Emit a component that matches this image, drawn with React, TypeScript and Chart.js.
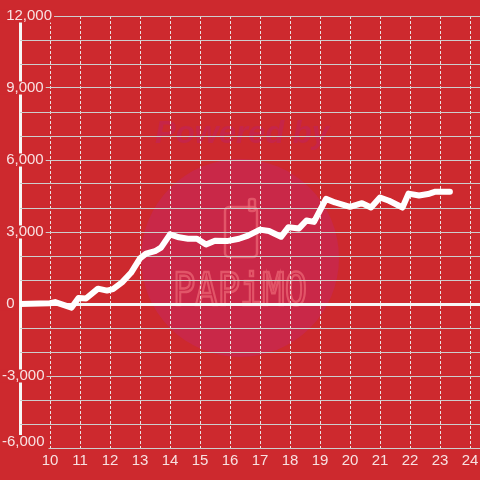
import React, { useEffect, useRef } from 'react';
import { Chart, registerables } from 'chart.js';

Chart.register(...registerables);

// hour of day (x) and running balance (y)
const hours = [9, 10, 10.17, 10.72, 10.95, 11.2, 11.6, 11.9, 12.1, 12.4, 12.7, 13.0, 13.2, 13.5, 13.7, 14.0, 14.3, 14.6, 14.9, 15.2, 15.5, 15.9, 16.3, 16.6, 17.0, 17.3, 17.7, 17.95, 18.3, 18.55, 18.8, 19.2, 19.5, 20.0, 20.4, 20.7, 21.0, 21.3, 21.75, 21.95, 22.3, 22.6, 22.85, 23.33];
const balance = [0, 30, 80, -150, 250, 230, 640, 560, 620, 900, 1300, 1900, 2100, 2200, 2350, 2900, 2780, 2720, 2720, 2480, 2640, 2620, 2720, 2850, 3100, 3040, 2800, 3200, 3150, 3480, 3420, 4380, 4230, 4050, 4200, 4020, 4440, 4300, 4020, 4600, 4520, 4580, 4680, 4680];

// y tick labels (every 3,000); the lowest one is drawn by a second axis
const yLabelValues = [12000, 9000, 6000, 3000, 0, -3000];
const yLabelTexts = ['\u00a012,000', '\u00a09,000', '\u00a06,000', '\u00a03,000', '\u00a00', '-3,000'];
const yBottomValue = -6000;
const yBottomText = '-6,000';
const xMin = 9;
const xMax = 24.3333;
const yMin = -6000;
const yMax = 12000;

const BG = 'rgb(205, 41, 46)';
const TEXT = 'rgba(255, 255, 255, 0.86)';
const FONT = '"Liberation Sans", Arial, sans-serif';

const backgroundPlugin = {
  id: 'papimoBackground',
  beforeDraw(chart: any) {
    const { ctx, width, height } = chart;
    ctx.save();
    ctx.fillStyle = BG;
    ctx.fillRect(0, 0, width, height);
    // watermark circle
    ctx.fillStyle = 'rgb(201, 40, 72)';
    ctx.beginPath();
    ctx.arc(240, 258, 99, 0, Math.PI * 2);
    ctx.fill();
    // "Powered by"
    ctx.fillStyle = 'rgb(198, 37, 72)';
    ctx.font = 'italic bold 31px ' + FONT;
    ctx.textAlign = 'center';
    ctx.textBaseline = 'alphabetic';
    ctx.fillText('Powered by', 242, 143);
    // phone outline
    ctx.strokeStyle = 'rgba(236, 104, 118, 0.7)';
    ctx.lineWidth = 2.5;
    ctx.beginPath();
    ctx.roundRect(225, 207, 32, 50, 4);
    ctx.stroke();
    ctx.beginPath();
    ctx.roundRect(249, 199, 6, 12, 2);
    ctx.stroke();
    // PAPiMO
    ctx.save();
    ctx.font = '44px "DejaVu Sans Mono", monospace';
    const w = ctx.measureText('PAPiMO').width;
    ctx.translate(173, 305);
    ctx.scale(134 / w, 1);
    ctx.textAlign = 'left';
    ctx.lineWidth = 2.5;
    ctx.strokeStyle = 'rgba(236, 104, 118, 0.7)';
    ctx.strokeText('PAPiMO', 0, 0);
    ctx.restore();
    ctx.restore();
  },
};

export default function App() {
  const ref = useRef<HTMLCanvasElement | null>(null);

  useEffect(() => {
    if (!ref.current) return;
    const labelFor = (v: number) => {
      const i = yLabelValues.indexOf(v);
      return i >= 0 ? yLabelTexts[i] : '';
    };
    const isLabelled = (c: any) => !!(c.tick && yLabelValues.indexOf(c.tick.value) >= 0);
    const chart = new Chart(ref.current, {
      type: 'line',
      data: {
        datasets: [
          {
            data: hours.map((h, i) => ({ x: h, y: balance[i] })),
            xAxisID: 'x',
            yAxisID: 'y',
            borderColor: '#ffffff',
            borderWidth: 6,
            pointRadius: 0,
            tension: 0,
            borderJoinStyle: 'round',
            borderCapStyle: 'round',
            fill: false,
          },
        ],
      },
      options: {
        animation: false,
        responsive: false,
        layout: { padding: { left: 2, top: 16, right: 0, bottom: 6 } },
        plugins: { legend: { display: false }, tooltip: { enabled: false } },
        scales: {
          x: {
            type: 'linear',
            min: xMin,
            max: xMax,
            afterFit: (s: any) => {
              s.paddingLeft = 0;
              s.paddingRight = 0;
            },
            border: {
              display: false,
              dash: (c: any) => (c.tick && c.tick.value === 9 ? [] : [3, 2]),
            },
            grid: {
              drawTicks: false,
              color: (c: any) => (c.tick && c.tick.value === 9 ? '#f7f7f7' : 'rgba(236, 236, 236, 0.95)'),
              lineWidth: (c: any) => (c.tick && c.tick.value === 9 ? 3 : 1),
            },
            ticks: {
              stepSize: 1,
              includeBounds: false,
              autoSkip: false,
              maxRotation: 0,
              padding: 4,
              color: TEXT,
              font: { family: FONT, size: 15, lineHeight: 1.2 },
              callback: (v: any) => (v === 9 ? '' : String(v)),
            },
          },
          y: {
            type: 'linear',
            position: 'left',
            weight: 0,
            min: yMin,
            max: yMax,
            afterFit: (s: any) => {
              s.width = 18;
              s.paddingTop = 0;
              s.paddingBottom = 0;
            },
            border: { display: false },
            grid: {
              drawTicks: false,
              color: (c: any) => (c.tick && c.tick.value === 0 ? '#f7f7f7' : 'rgba(205, 205, 205, 1)'),
              lineWidth: (c: any) => (c.tick && c.tick.value === 0 ? 3 : 1),
            },
            ticks: {
              stepSize: 1000,
              autoSkip: false,
              mirror: true,
              crossAlign: 'near',
              padding: -18,
              color: TEXT,
              font: { family: FONT, size: 15, lineHeight: '13px' },
              showLabelBackdrop: isLabelled,
              backdropColor: BG,
              backdropPadding: { top: 0, bottom: 0, left: 2, right: 2 },
              callback: (v: any) => labelFor(v),
            },
          },
          y2: {
            type: 'linear',
            position: 'left',
            weight: 1,
            min: yMin,
            max: yMax,
            afterFit: (s: any) => {
              s.width = 0;
              s.paddingTop = 0;
              s.paddingBottom = 0;
            },
            border: { display: false },
            grid: { display: false, drawTicks: false },
            ticks: {
              stepSize: 1000,
              autoSkip: false,
              mirror: true,
              crossAlign: 'near',
              padding: 0,
              labelOffset: -6.5,
              color: TEXT,
              font: { family: FONT, size: 15, lineHeight: '13px' },
              showLabelBackdrop: (c: any) => !!(c.tick && c.tick.value === yBottomValue),
              backdropColor: BG,
              backdropPadding: { top: 0, bottom: 2, left: 2, right: 4 },
              callback: (v: any) => (v === yBottomValue ? yBottomText : ''),
            },
          },
        },
      },
      plugins: [backgroundPlugin],
    } as any);
    return () => chart.destroy();
  }, []);

  return (
    <div style={{ position: 'fixed', left: 0, top: 0, width: 480, height: 480, background: BG }}>
      <canvas ref={ref} width={480} height={480} style={{ display: 'block', width: 480, height: 480 }} />
    </div>
  );
}
